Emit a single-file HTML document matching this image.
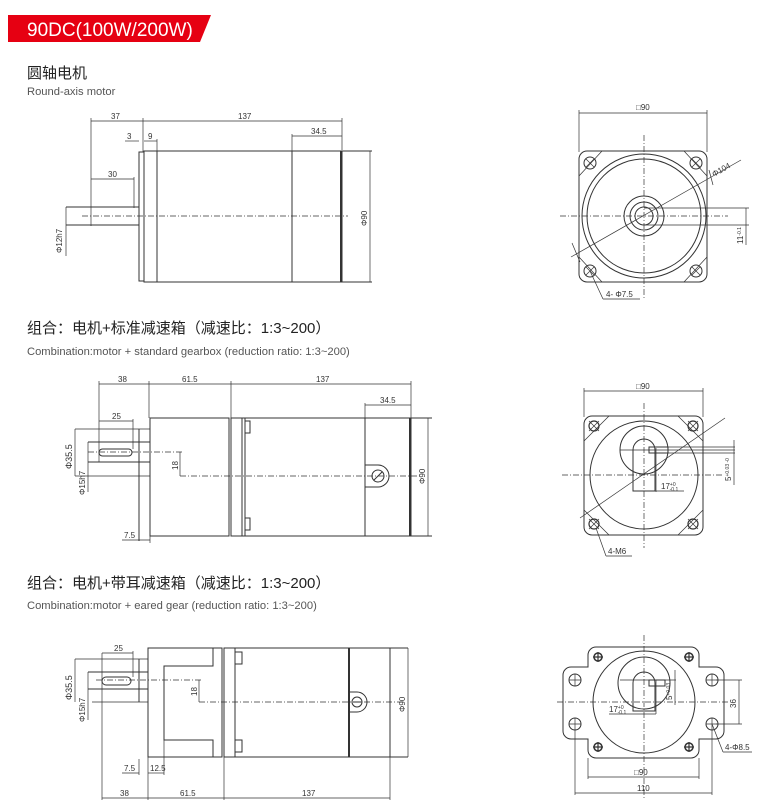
<!DOCTYPE html>
<html><head><meta charset="utf-8"><style>
body{margin:0;background:#fff;width:760px;height:805px;overflow:hidden}
svg{display:block}
.t{font-family:"Liberation Sans",sans-serif;font-size:8px;fill:#333}
.zh{font-family:"Liberation Sans","Noto Sans CJK SC",sans-serif;font-size:15px;fill:#222}
.en{font-family:"Liberation Sans",sans-serif;font-size:11.2px;fill:#555}
</style></head><body>
<svg width="760" height="805" viewBox="0 0 760 805" xmlns="http://www.w3.org/2000/svg">
<polygon points="8,15 211,15 200,42 8,42" fill="#e60012"/>
<text x="27" y="36" font-family="Liberation Sans,sans-serif" font-size="19" fill="#fff">90DC(100W/200W)</text>
<text x="27" y="78" class="zh">圆轴电机</text>
<text x="27" y="95" class="en">Round-axis motor</text>
<text x="27" y="333" class="zh">组合：电机+标准减速箱（减速比：1:3~200）</text>
<text x="27" y="355" class="en">Combination:motor + standard gearbox (reduction ratio: 1:3~200)</text>
<text x="27" y="588" class="zh">组合：电机+带耳减速箱（减速比：1:3~200）</text>
<text x="27" y="609" class="en">Combination:motor + eared gear (reduction ratio: 1:3~200)</text>

<g fill="none" stroke="#333" stroke-width="0.7">
<line x1="91" y1="121" x2="342" y2="121"/><line x1="91" y1="118" x2="91" y2="226"/><line x1="143" y1="118" x2="143" y2="152"/><line x1="342" y1="118" x2="342" y2="150"/>
<line x1="292" y1="136" x2="342" y2="136"/><line x1="292" y1="134" x2="292" y2="151"/>
<line x1="125" y1="141" x2="139" y2="141"/><line x1="144" y1="141" x2="157" y2="141"/><line x1="157" y1="139" x2="157" y2="151"/>
<line x1="91" y1="179" x2="134" y2="179"/><line x1="134" y1="177" x2="134" y2="208"/>
<g stroke-width="1">
<rect x="139" y="152" width="5" height="129"/>
<rect x="144" y="151" width="198" height="131"/>
<line x1="157" y1="151" x2="157" y2="282"/><line x1="292" y1="151" x2="292" y2="282"/>
<line x1="342" y1="151" x2="372" y2="151"/><line x1="342" y1="282" x2="372" y2="282"/>
<line x1="341" y1="151" x2="341" y2="282" stroke-width="2"/>
<line x1="66" y1="207" x2="139" y2="207"/><line x1="66" y1="225" x2="139" y2="225"/>
</g>
<line x1="66" y1="207" x2="66" y2="256"/><line x1="370" y1="151" x2="370" y2="282"/>
<line x1="82" y1="216" x2="348" y2="216" stroke-dasharray="6,2,1,2"/>
<line x1="579" y1="113" x2="707" y2="113"/><line x1="579" y1="110" x2="579" y2="152"/><line x1="707" y1="110" x2="707" y2="152"/>
<g stroke-width="1">
<rect x="579" y="151" width="128" height="131" rx="8"/>
<circle cx="644" cy="216" r="62"/><circle cx="644" cy="216" r="57"/>
<circle cx="644" cy="216" r="20"/><circle cx="644" cy="216" r="14"/><circle cx="644" cy="216" r="9"/>
</g>
<line x1="579" y1="176" x2="602" y2="151"/><line x1="684" y1="151" x2="707" y2="176"/><line x1="579" y1="257" x2="602" y2="282"/><line x1="684" y1="282" x2="707" y2="257"/>
<g stroke-width="1"><circle cx="590" cy="163" r="6"/><circle cx="696" cy="163" r="6"/><circle cx="590" cy="271" r="6"/><circle cx="696" cy="271" r="6"/></g>
<path d="M586,159l8,8m0-8l-8,8M692,159l8,8m0-8l-8,8M586,267l8,8m0-8l-8,8M692,267l8,8m0-8l-8,8"/>
<line x1="560" y1="216" x2="728" y2="216" stroke-dasharray="6,2,1,2"/><line x1="644" y1="135" x2="644" y2="298" stroke-dasharray="6,2,1,2"/>
<line x1="571" y1="257" x2="741" y2="160"/><line x1="572" y1="243" x2="580" y2="262"/><line x1="709" y1="170" x2="713" y2="185"/>
<line x1="644" y1="208" x2="749" y2="208"/><line x1="644" y1="225" x2="749" y2="225"/><line x1="746" y1="208" x2="746" y2="245"/>
<line x1="590" y1="271" x2="603" y2="299"/><line x1="603" y1="299" x2="640" y2="299"/>

<line x1="99" y1="384" x2="411" y2="384"/><line x1="99" y1="381" x2="99" y2="462"/><line x1="149" y1="381" x2="149" y2="418"/><line x1="231" y1="381" x2="231" y2="418"/><line x1="411" y1="381" x2="411" y2="418"/>
<line x1="365" y1="405" x2="411" y2="405"/><line x1="365" y1="403" x2="365" y2="418"/>
<line x1="99" y1="421" x2="133" y2="421"/><line x1="133" y1="419" x2="133" y2="449"/>
<g stroke-width="1">
<rect x="150" y="418" width="79" height="118"/><line x1="231" y1="418" x2="231" y2="536"/>
<rect x="231" y="418" width="180" height="118"/>
<line x1="242" y1="418" x2="242" y2="536"/><line x1="245" y1="418" x2="245" y2="536"/>
<rect x="245" y="421" width="5" height="12"/><rect x="245" y="518" width="5" height="12"/>
<line x1="365" y1="418" x2="365" y2="536"/><line x1="410" y1="418" x2="410" y2="536" stroke-width="2"/>
<line x1="411" y1="418" x2="432" y2="418"/><line x1="411" y1="536" x2="432" y2="536"/>
<path d="M365,465h13a11,11 0 0 1 0,22h-13"/><circle cx="378" cy="476" r="6"/><line x1="374" y1="480" x2="382" y2="472"/>
<line x1="139" y1="429" x2="139" y2="541"/>
<line x1="88" y1="442" x2="150" y2="442"/><line x1="88" y1="462" x2="150" y2="462"/>
<rect x="99" y="449" width="33" height="7" rx="3.5"/>
</g>
<line x1="75" y1="429" x2="150" y2="429"/><line x1="75" y1="476" x2="150" y2="476"/>
<line x1="75" y1="429" x2="75" y2="476"/><line x1="88" y1="442" x2="88" y2="492"/>
<line x1="428" y1="418" x2="428" y2="536"/>
<line x1="88" y1="452" x2="183" y2="452" stroke-dasharray="6,2,1,2"/><line x1="180" y1="452" x2="180" y2="476"/>
<line x1="180" y1="476" x2="420" y2="476" stroke-dasharray="6,2,1,2"/>
<line x1="122" y1="540" x2="150" y2="540"/><line x1="150" y1="536" x2="150" y2="543"/>
<line x1="584" y1="391" x2="703" y2="391"/><line x1="584" y1="388" x2="584" y2="417"/><line x1="703" y1="388" x2="703" y2="417"/>
<g stroke-width="1">
<rect x="584" y="416" width="119" height="119" rx="8"/>
<circle cx="644" cy="475" r="54"/><circle cx="644" cy="450" r="24"/>
<path d="M633,450a11,11 0 0 1 22,0v41h-22z"/>
<rect x="649" y="447" width="19" height="6"/>
</g>
<line x1="584" y1="441" x2="609" y2="416"/><line x1="678" y1="416" x2="703" y2="441"/><line x1="584" y1="510" x2="609" y2="535"/><line x1="678" y1="535" x2="703" y2="510"/>
<g stroke-width="1.2"><circle cx="594" cy="426" r="5"/><circle cx="693" cy="426" r="5"/><circle cx="594" cy="524" r="5"/><circle cx="693" cy="524" r="5"/></g>
<path d="M589,421l10,10m0-10l-10,10M688,421l10,10m0-10l-10,10M589,519l10,10m0-10l-10,10M688,519l10,10m0-10l-10,10"/>
<line x1="562" y1="475" x2="722" y2="475" stroke-dasharray="6,2,1,2"/><line x1="644" y1="403" x2="644" y2="548" stroke-dasharray="6,2,1,2"/>
<line x1="580" y1="518" x2="725" y2="418"/>
<line x1="656" y1="448" x2="656" y2="492"/><line x1="656" y1="491" x2="684" y2="491"/>
<line x1="620" y1="450" x2="735" y2="450"/><line x1="668" y1="447" x2="735" y2="447"/><line x1="668" y1="453" x2="735" y2="453"/><line x1="734" y1="440" x2="734" y2="485"/>
<line x1="596" y1="528" x2="606" y2="556"/><line x1="606" y1="556" x2="632" y2="556"/>

<line x1="102" y1="653" x2="133" y2="653"/><line x1="133" y1="651" x2="133" y2="677"/>
<g stroke-width="1">
<path d="M148,648H222V757H148Z"/>
<path d="M213,648V666H164V740H213V757"/>
<line x1="224" y1="648" x2="224" y2="757"/>
<rect x="224" y="648" width="166" height="109"/>
<line x1="235" y1="648" x2="235" y2="757"/>
<rect x="235" y="652" width="7" height="12"/><rect x="235" y="740" width="7" height="12"/>
<line x1="349" y1="648" x2="349" y2="757" stroke-width="2"/>
<line x1="390" y1="648" x2="408" y2="648"/><line x1="390" y1="757" x2="408" y2="757"/>
<path d="M349,692h8a10,10 0 0 1 0,20h-8"/><circle cx="357" cy="702" r="5"/><line x1="353" y1="702" x2="361" y2="702"/>
<line x1="88" y1="672" x2="148" y2="672"/><line x1="88" y1="689" x2="148" y2="689"/>
<rect x="102" y="677" width="29" height="8" rx="4"/>
<line x1="139" y1="659" x2="139" y2="702"/>
</g>
<line x1="75" y1="659" x2="148" y2="659"/><line x1="92" y1="702" x2="148" y2="702"/>
<line x1="75" y1="659" x2="75" y2="702"/><line x1="88" y1="672" x2="88" y2="720"/>
<line x1="408" y1="648" x2="408" y2="757"/>
<line x1="96" y1="680" x2="202" y2="680" stroke-dasharray="6,2,1,2"/><line x1="199" y1="680" x2="199" y2="702"/>
<line x1="199" y1="702" x2="405" y2="702" stroke-dasharray="6,2,1,2"/>
<line x1="102" y1="653" x2="102" y2="800"/><line x1="148" y1="757" x2="148" y2="800"/><line x1="224" y1="757" x2="224" y2="800"/><line x1="390" y1="757" x2="390" y2="800"/>
<line x1="102" y1="798" x2="390" y2="798"/>
<line x1="164" y1="740" x2="164" y2="775"/>
<line x1="122" y1="773" x2="139" y2="773"/><line x1="148" y1="773" x2="164" y2="773"/><line x1="139" y1="759" x2="139" y2="775"/>
<g stroke-width="1">
<path d="M596,647H691A8,8 0 0 1 699,655V667H716A8,8 0 0 1 724,675V731A8,8 0 0 1 716,739H699V750A8,8 0 0 1 691,758H596A8,8 0 0 1 588,750V739H571A8,8 0 0 1 563,731V675A8,8 0 0 1 571,667H588V655A8,8 0 0 1 596,647Z"/>
<circle cx="644" cy="702" r="51"/><circle cx="644" cy="683" r="26"/>
<path d="M633,683a11,11 0 0 1 22,0v28h-22z"/>
<rect x="649" y="680" width="16" height="6"/>
<circle cx="575" cy="680" r="6"/><circle cx="712" cy="680" r="6"/><circle cx="575" cy="724" r="6"/><circle cx="712" cy="724" r="6"/>
</g>
<path d="M569,680h12M575,674v12M706,680h12M712,674v12M569,724h12M575,718v12M706,724h12M712,718v12"/>
<g stroke-width="1.5"><circle cx="598" cy="657" r="4"/><circle cx="689" cy="657" r="4"/><circle cx="598" cy="747" r="4"/><circle cx="689" cy="747" r="4"/></g>
<path d="M593,657h10M598,652v10M684,657h10M689,652v10M593,747h10M598,742v10M684,747h10M689,742v10" stroke-width="1.2"/>
<line x1="557" y1="702" x2="730" y2="702" stroke-dasharray="6,2,1,2"/><line x1="644" y1="635" x2="644" y2="800" stroke-dasharray="6,2,1,2"/>
<line x1="620" y1="680" x2="676" y2="680"/><line x1="675" y1="670" x2="675" y2="705"/>
<line x1="656" y1="680" x2="656" y2="714"/><line x1="609" y1="714" x2="656" y2="714"/>
<line x1="588" y1="758" x2="588" y2="779"/><line x1="699" y1="758" x2="699" y2="779"/><line x1="588" y1="777" x2="699" y2="777"/>
<line x1="575" y1="730" x2="575" y2="795"/><line x1="712" y1="730" x2="712" y2="795"/><line x1="575" y1="793" x2="712" y2="793"/>
<line x1="716" y1="680" x2="742" y2="680"/><line x1="716" y1="724" x2="742" y2="724"/><line x1="739" y1="680" x2="739" y2="724"/>
<line x1="712" y1="724" x2="723" y2="752"/><line x1="723" y1="752" x2="752" y2="752"/>
</g>

<g class="t">
<text x="111" y="119">37</text><text x="238" y="119">137</text><text x="311" y="134">34.5</text>
<text x="127" y="139">3</text><text x="148" y="139">9</text><text x="108" y="177">30</text>
<text transform="translate(62,253) rotate(-90)">Φ12h7</text>
<text transform="translate(367,226) rotate(-90)">Φ90</text>
<text x="636" y="110">□90</text>
<text transform="translate(714,177) rotate(-30)">Φ104</text>
<text transform="translate(743,244) rotate(-90)">11<tspan font-size="5" dy="-2">-0.1</tspan></text>
<text x="606" y="297">4- Φ7.5</text>

<text x="118" y="382">38</text><text x="182" y="382">61.5</text><text x="316" y="382">137</text><text x="380" y="403">34.5</text>
<text x="112" y="419">25</text>
<text transform="translate(72,469) rotate(-90)" font-size="9">Φ35.5</text>
<text transform="translate(85,495) rotate(-90)">Φ15h7</text>
<text transform="translate(178,470) rotate(-90)">18</text>
<text transform="translate(425,484) rotate(-90)">Φ90</text>
<text x="124" y="538">7.5</text>
<text x="636" y="389">□90</text>
<text x="661" y="489">17<tspan font-size="5" dy="-3">+0</tspan><tspan font-size="5" dx="-6" dy="5">-0.1</tspan></text>
<text transform="translate(731,481) rotate(-90)">5<tspan font-size="5" dy="-2">+0.03 -0</tspan></text>
<text x="608" y="554">4-M6</text>

<text x="114" y="651">25</text>
<text transform="translate(72,700) rotate(-90)" font-size="9">Φ35.5</text>
<text transform="translate(85,722) rotate(-90)">Φ15h7</text>
<text transform="translate(197,696) rotate(-90)">18</text>
<text transform="translate(405,712) rotate(-90)">Φ90</text>
<text x="124" y="771">7.5</text><text x="150" y="771">12.5</text>
<text x="120" y="796">38</text><text x="180" y="796">61.5</text><text x="302" y="796">137</text>
<text x="609" y="712">17<tspan font-size="5" dy="-3">+0</tspan><tspan font-size="5" dx="-6" dy="5">-0.1</tspan></text>
<text transform="translate(672,700) rotate(-90)">5<tspan font-size="5" dy="-2">+0.03</tspan></text>
<text x="634" y="775">□90</text><text x="637" y="791">110</text>
<text transform="translate(736,708) rotate(-90)">36</text>
<text x="725" y="750">4-Φ8.5</text>
</g>
</svg>
</body></html>
